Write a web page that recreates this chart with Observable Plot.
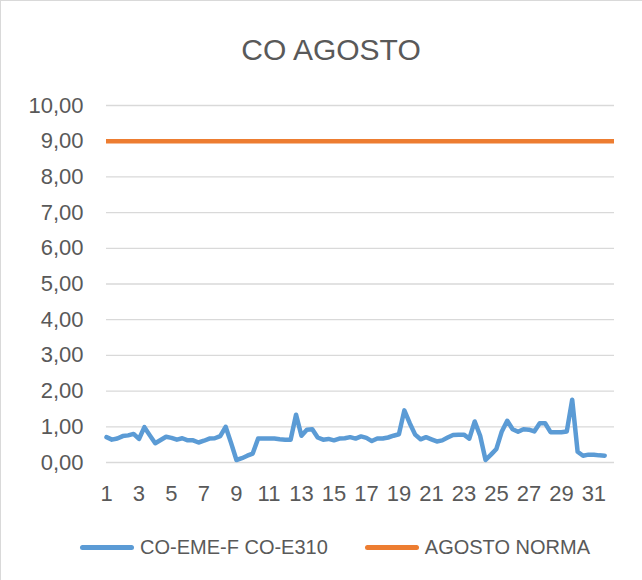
<!DOCTYPE html>
<html>
<head>
<meta charset="utf-8">
<script src="https://cdn.jsdelivr.net/npm/d3@7"></script>
<script src="https://cdn.jsdelivr.net/npm/@observablehq/plot@0.6"></script>
<style>
  body { margin: 0; background: #fff; }
  #chart { position: relative; width: 642px; height: 580px; box-sizing: border-box;
           border-top: 1px solid #d9d9d9; border-left: 1px solid #d9d9d9;
           font-family: "Liberation Sans", Arial, sans-serif; color: #595959; overflow: hidden; background:#fff; }
  #title { position: absolute; left: 0; top: 31px; width: 660px; text-align: center;
           font-size: 30px; line-height: 36px; color: #595959; }
  #plot { position: absolute; left: -1px; top: 79px; }
  #legend { position: absolute; left: 79px; top: 532px; display: flex; align-items: center;
            font-size: 20px; line-height: 28px; color: #595959; }
  .sw { display: inline-block; width: 54px; height: 5px; border-radius: 3px; margin-right: 6px; }
  .item { display: flex; align-items: center; }
</style>
</head>
<body>
<div id="chart">
  <div id="title">CO AGOSTO</div>
  <div id="plot"></div>
  <div id="legend"></div>
</div>
<script>
// CO readings (3 per day, 31 days)
const coValues = [
  0.71, 0.64, 0.67, 0.74, 0.76, 0.80, 0.66, 0.99, 0.76, 0.54,
  0.63, 0.72, 0.69, 0.64, 0.68, 0.62, 0.62, 0.56, 0.61, 0.67,
  0.68, 0.74, 1.00, 0.55, 0.07, 0.12, 0.19, 0.25, 0.67, 0.67,
  0.67, 0.67, 0.65, 0.64, 0.64, 1.34, 0.75, 0.92, 0.93, 0.70,
  0.64, 0.66, 0.62, 0.67, 0.68, 0.71, 0.67, 0.73, 0.69, 0.60,
  0.67, 0.67, 0.70, 0.75, 0.79, 1.46, 1.10, 0.78, 0.65, 0.71,
  0.65, 0.59, 0.62, 0.70, 0.77, 0.78, 0.78, 0.67, 1.15, 0.75,
  0.07, 0.22, 0.38, 0.87, 1.17, 0.93, 0.86, 0.93, 0.92, 0.87,
  1.10, 1.10, 0.85, 0.85, 0.85, 0.87, 1.76, 0.30, 0.19, 0.22,
  0.22, 0.20, 0.19
];
const readingsPerDay = 3;
const normaAgosto = 9;
const dayTicks = [1, 3, 5, 7, 9, 11, 13, 15, 17, 19, 21, 23, 25, 27, 29, 31];
const yTicks = [0, 1, 2, 3, 4, 5, 6, 7, 8, 9, 10];
const seriesNames = ["CO-EME-F CO-E310", "AGOSTO NORMA"];
const seriesColors = ["#5B9BD5", "#ED7D31"];

const data = coValues.map((v, i) => ({ day: 1 + i / readingsPerDay, v }));

const plot = Plot.plot({
  width: 642,
  height: 431,
  marginLeft: 106,
  marginRight: 28,
  marginTop: 25,
  marginBottom: 49,
  style: { fontFamily: "Liberation Sans, Arial, sans-serif", fontSize: "22px", color: "#595959", background: "transparent", overflow: "visible" },
  x: { domain: [1, 32.27], ticks: dayTicks, tickFormat: d => String(d), tickSize: 0, tickPadding: 23, label: null },
  y: { domain: [0, 10], ticks: yTicks, tickFormat: d => d.toFixed(2).replace(".", ","), tickSize: 0, tickPadding: 23, label: null },
  marks: [
    Plot.gridY(yTicks, { stroke: "#d9d9d9", strokeOpacity: 1, strokeWidth: 1.3 }),
    Plot.ruleY([normaAgosto], { stroke: seriesColors[1], strokeWidth: 4.5 }),
    Plot.line(data, { x: "day", y: "v", stroke: seriesColors[0], strokeWidth: 4.5, strokeLinejoin: "round", strokeLinecap: "round" })
  ]
});
document.getElementById("plot").appendChild(plot);

const legend = document.getElementById("legend");
seriesNames.forEach((name, i) => {
  const item = document.createElement("div");
  item.className = "item";
  if (i > 0) item.style.marginLeft = "37px";
  const sw = document.createElement("span");
  sw.className = "sw";
  sw.style.background = seriesColors[i];
  const t = document.createElement("span");
  t.textContent = name;
  item.appendChild(sw);
  item.appendChild(t);
  legend.appendChild(item);
});
</script>
</body>
</html>
